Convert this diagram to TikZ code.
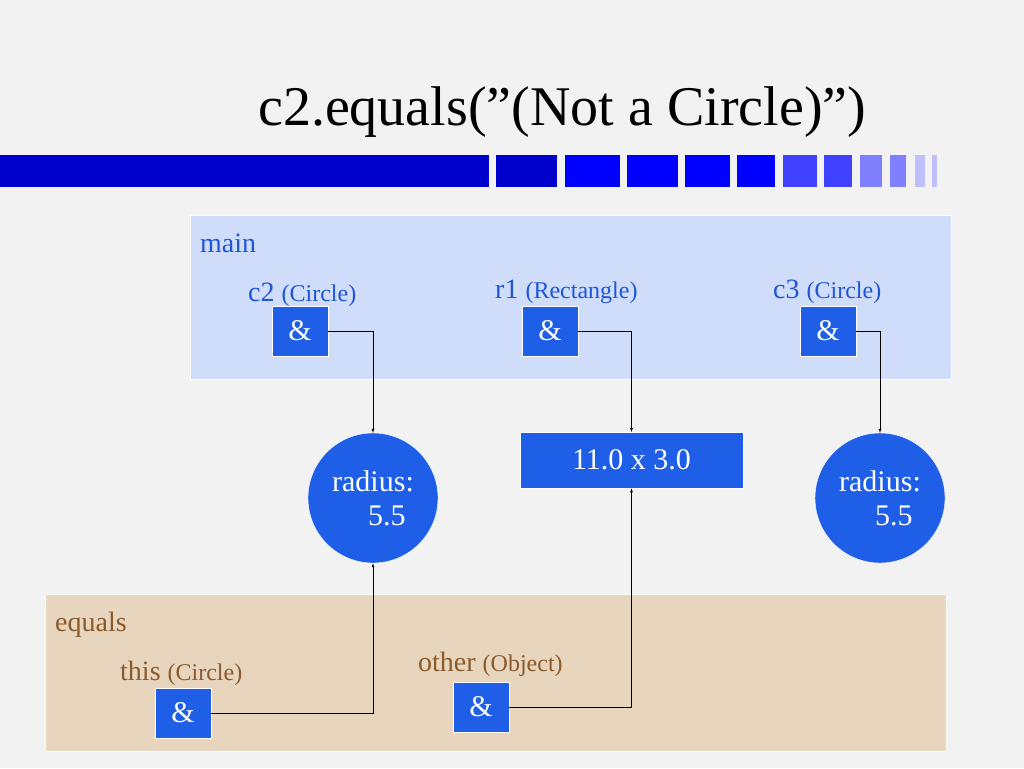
\documentclass[tikz,border=0pt]{standalone}
\usepackage{fontspec}
\setmainfont{Liberation Serif}
\usetikzlibrary{arrows}
\definecolor{bg}{HTML}{F2F2F2}
\definecolor{mainbg}{HTML}{CFDDFB}
\definecolor{eqbg}{HTML}{E8D5BE}
\definecolor{refblue}{HTML}{1F5FE8}
\definecolor{txtblue}{HTML}{1F55D8}
\definecolor{txtbrown}{HTML}{8B5A2B}
\begin{document}
\begin{tikzpicture}[x=1pt,y=-1pt,
                every path/.style={>=latex},
                ref/.style={draw=white,fill=refblue,text=white,minimum width=56pt,minimum height=50pt,font=\fontsize{30}{30}\selectfont,inner sep=0pt},
                obj/.style={draw=white,fill=refblue,text=white,font=\fontsize{30}{34}\selectfont,align=left},
                lbl/.style={anchor=base west,font=\fontsize{28}{28}\selectfont,inner sep=0pt}]
  \useasboundingbox[fill=bg] (0,0) rectangle (1024,768);
  \node[anchor=base west,inner sep=0pt,font=\fontsize{56}{56}\selectfont] (title) at (258,125) {c2.equals("(Not a Circle)")};
  % bar
  \fill[blue!80!black] (0,155) rectangle (489,187);
  \fill[blue!80!black] (496,155) rectangle (557,187);
  \foreach \a/\b in {565/620,627/678,685/730,737/775}
    \fill[blue] (\a,155) rectangle (\b,187);
  \foreach \a/\b/\c in {783/817/75,824/852/75,860/882/50,890/906/50,915/925/25,932/937/25}
    \fill[blue!\c] (\a,155) rectangle (\b,187);
  % frames
  \draw[white,fill=mainbg] (190,215) rectangle (951,379);
  \draw[white,fill=eqbg] (45,594) rectangle (946,751);
  \node[lbl,text=txtblue] (main) at (200,252) {main};
  \node[lbl,text=txtblue] (lc2) at (248,301) {c2 {\fontsize{24}{24}\selectfont(Circle)}};
  \node[lbl,text=txtblue] (lr1) at (495,298) {r1 {\fontsize{24}{24}\selectfont(Rectangle)}};
  \node[lbl,text=txtblue] (lc3) at (773,298) {c3 {\fontsize{24}{24}\selectfont(Circle)}};
  \node[lbl,text=txtbrown] (eq) at (55,631) {equals};
  \node[lbl,text=txtbrown] (lthis) at (120,680) {this {\fontsize{24}{24}\selectfont(Circle)}};
  \node[lbl,text=txtbrown] (lother) at (418,671) {other {\fontsize{24}{24}\selectfont(Object)}};
  % references
  \node[ref] (c2) at (300,331) {\&};
  \node[ref] (r1) at (550,331) {\&};
  \node[ref] (c3) at (828,331) {\&};
  \node[ref] (this) at (183,713) {\&};
  \node[ref] (other) at (481,707) {\&};
  % objects
  \node[obj,circle,minimum size=130pt,inner sep=0pt] (circA) at (373,498) {radius:\\\hspace{1.2em}5.5};
  \node[obj,circle,minimum size=130pt,inner sep=0pt] (circB) at (880,498) {radius:\\\hspace{1.2em}5.5};
  \node[obj,minimum width=223pt,minimum height=56pt,inner sep=0pt,anchor=north] (rect) at (631.5,432) {11.0 x 3.0};
  \draw[->] (c2.east) -| (circA.north);
  \draw[->] (r1.east) -| (rect.north);
  \draw[->] (c3.east) -| (circB.north);
  \draw[->] (this.east) -| (circA.south);
  \draw[->] (other.east) -| (rect.south);
\end{tikzpicture}
\end{document}
